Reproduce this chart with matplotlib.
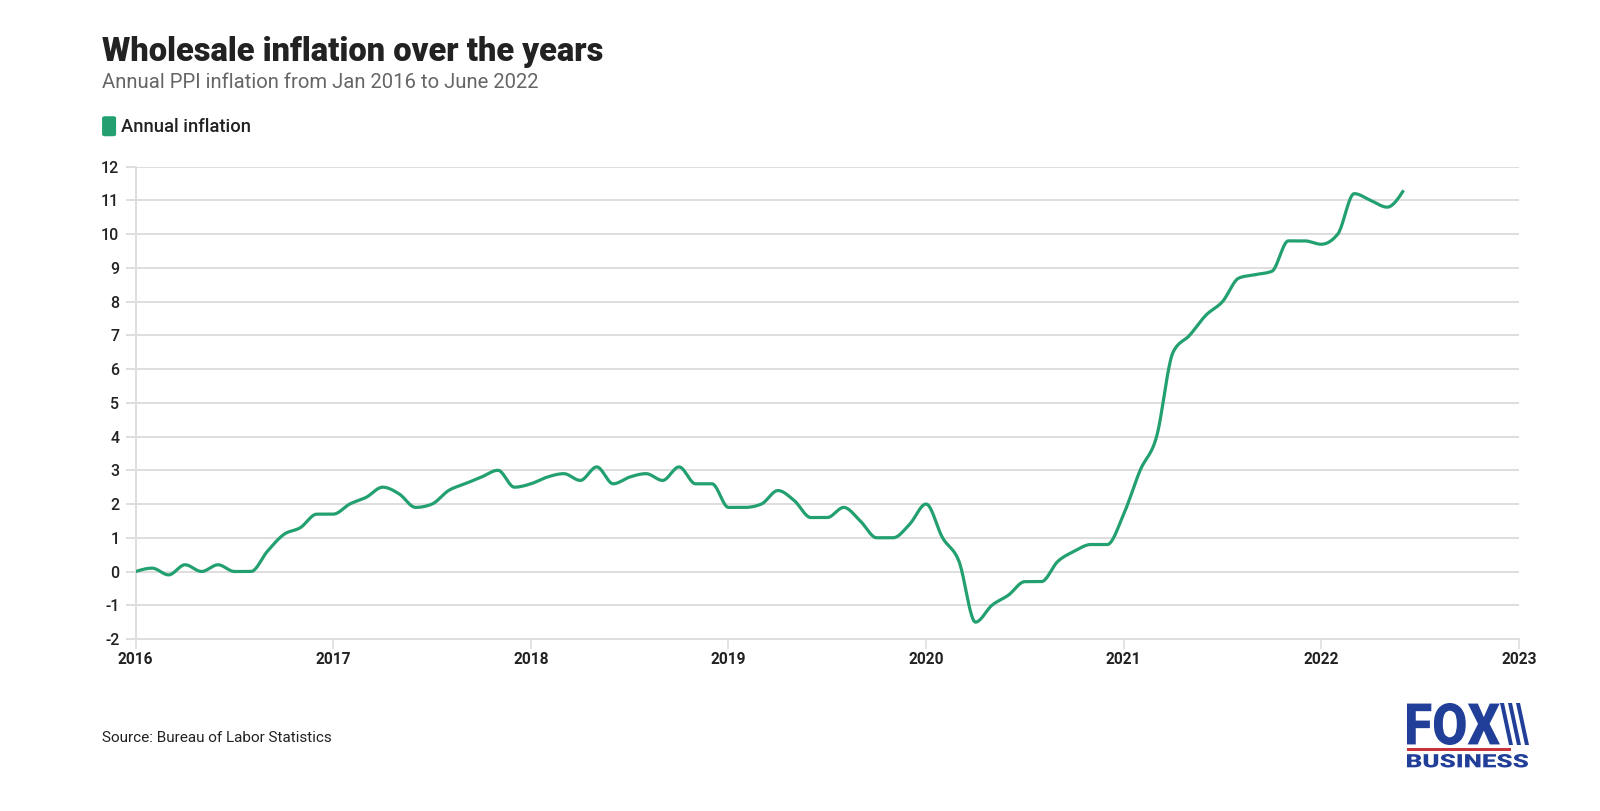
import numpy as np
import matplotlib
matplotlib.use('Agg')
import matplotlib.pyplot as plt
from matplotlib.patches import FancyBboxPatch, Rectangle, Polygon, PathPatch
from matplotlib.textpath import TextPath
from matplotlib.font_manager import FontProperties
from matplotlib.transforms import Affine2D, IdentityTransform

plt.rcParams['font.family'] = ['Roboto', 'DejaVu Sans']

# monthly annual PPI inflation, Jan 2016 .. Jun 2022
values_2016 = [0.0, 0.1, -0.1, 0.2, 0.0, 0.2, 0.0, 0.0, 0.6, 1.1, 1.3, 1.7]
values_2017 = [1.7, 2.0, 2.2, 2.5, 2.3, 1.9, 2.0, 2.4, 2.6, 2.8, 3.0, 2.5]
values_2018 = [2.6, 2.8, 2.9, 2.7, 3.1, 2.6, 2.8, 2.9, 2.7, 3.1, 2.6, 2.6]
values_2019 = [1.9, 1.9, 2.0, 2.4, 2.1, 1.6, 1.6, 1.9, 1.5, 1.0, 1.0, 1.4]
values_2020 = [2.0, 1.0, 0.3, -1.5, -1.0, -0.7, -0.3, -0.3, 0.3, 0.6, 0.8, 0.8]
values_2021 = [1.7, 3.0, 4.0, 6.5, 7.0, 7.6, 8.0, 8.7, 8.8, 8.9, 9.8, 9.8]
values_2022 = [9.7, 10.0, 11.2, 11.0, 10.8, 11.3]

inflation = np.array(values_2016 + values_2017 + values_2018 + values_2019
                     + values_2020 + values_2021 + values_2022)
months = 2016 + np.arange(len(inflation)) / 12

year_ticks = list(range(2016, 2024))
y_ticks = list(range(-2, 13))

GREEN = '#23a06f'
GRID = '#dedede'
DARK = '#222222'
BLUE = '#213f99'
W, H = 1600, 811


def monotone_curve(x, y, n=20):
    # smooth drawing path like d3 curveMonotoneX
    h = np.diff(x)
    s = np.diff(y) / h
    t = np.zeros_like(y)
    for i in range(1, len(y) - 1):
        if s[i - 1] * s[i] <= 0:
            t[i] = 0
        else:
            p = (s[i - 1] * h[i] + s[i] * h[i - 1]) / (h[i - 1] + h[i])
            t[i] = (np.sign(s[i - 1]) + np.sign(s[i])) * min(abs(s[i - 1]), abs(s[i]), 0.5 * abs(p))
    t[0] = (3 * s[0] - t[1]) / 2
    t[-1] = (3 * s[-1] - t[-2]) / 2
    xs, ys = [], []
    for i in range(len(x) - 1):
        u = np.linspace(0, 1, n, endpoint=False)
        hh = h[i]
        h00 = 2 * u**3 - 3 * u**2 + 1
        h10 = u**3 - 2 * u**2 + u
        h01 = -2 * u**3 + 3 * u**2
        h11 = u**3 - u**2
        xs.append(x[i] + u * hh)
        ys.append(h00 * y[i] + h10 * hh * t[i] + h01 * y[i + 1] + h11 * hh * t[i + 1])
    xs.append([x[-1]])
    ys.append([y[-1]])
    return np.concatenate(xs), np.concatenate(ys)


def logo_word(fig, text, left, top, width, height, color):
    # word squeezed into a pixel box (top measured from the top of the figure)
    tp = TextPath((0, 0), text, size=100, prop=FontProperties(family='Roboto', weight='black'))
    ext = tp.get_extents()
    tr = (Affine2D().translate(-ext.x0, -ext.y0)
          .scale(width / ext.width, height / ext.height)
          .translate(left, H - top - height))
    fig.add_artist(PathPatch(tr.transform_path(tp), facecolor=color, edgecolor='none',
                             transform=IdentityTransform()))


fig = plt.figure(figsize=(16, 8.11), dpi=100)
ax = fig.add_axes([0.0848, 0.2121, 0.8645, 0.5824])

cx, cy = monotone_curve(months, inflation)
ax.plot(cx, cy, color=GREEN, lw=2.3, solid_capstyle='butt', zorder=3)

ax.set_xlim(2016, 2023)
ax.set_ylim(-2, 12)
ax.set_xticks(year_ticks)
ax.set_xticklabels([str(y) for y in year_ticks], fontsize=11.2, fontweight='bold', color=DARK)
ax.set_yticks(y_ticks)
ax.set_yticklabels([str(v) for v in y_ticks], fontsize=11.5, fontweight='medium', color=DARK)
ax.grid(axis='y', color=GRID, lw=1.4, zorder=0)
ax.tick_params(axis='y', length=7.2, width=1.4, color=GRID, pad=4.5)
ax.tick_params(axis='x', length=7.2, width=1.2, color=GRID, pad=2.5)
for side in ['top', 'right']:
    ax.spines[side].set_visible(False)
ax.spines['left'].set_color(GRID)
ax.spines['left'].set_linewidth(1.4)
ax.spines['bottom'].set_color(GRID)
ax.spines['bottom'].set_linewidth(1.4)

# title, subtitle, legend
fig.text(0.0638, 0.925, 'Wholesale inflation over the years', fontsize=23.5,
         fontweight='heavy', color=DARK, va='baseline')
fig.text(0.0638, 0.892, 'Annual PPI inflation from Jan 2016 to June 2022', fontsize=14.6,
         color='#666666', va='baseline')
fig.patches.append(FancyBboxPatch((0.0638, 0.832), 0.00875, 0.0247,
                                  boxstyle='round,pad=0,rounding_size=0.002',
                                  transform=fig.transFigure, facecolor=GREEN,
                                  edgecolor='none'))
fig.text(0.0759, 0.8375, 'Annual inflation', fontsize=13.2, fontweight='medium',
         color=DARK, va='baseline')

fig.text(0.0638, 0.09, 'Source: Bureau of Labor Statistics', fontsize=11,
         color=DARK, va='center')

# FOX BUSINESS logo
logo_word(fig, 'FOX', 1407, 703, 93, 42, BLUE)
for i in range(3):
    x0 = 1500 + i * 8
    top_y, bot_y = H - 703, H - 745
    fig.add_artist(Polygon([(x0, top_y), (x0 + 4, top_y), (x0 + 13, bot_y), (x0 + 9, bot_y)],
                           closed=True, transform=IdentityTransform(),
                           facecolor=BLUE, edgecolor='none'))
fig.add_artist(Rectangle((1407, H - 751), 104, 3.5, transform=IdentityTransform(),
                         facecolor='#c9333b', edgecolor='none'))
logo_word(fig, 'BUSINESS', 1407, 754, 121, 13.5, BLUE)

fig.savefig('out.png', dpi=100, facecolor='white')
